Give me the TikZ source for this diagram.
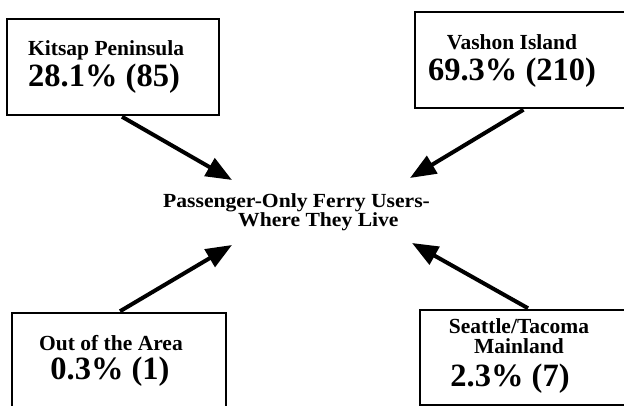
\documentclass[tikz,border=0pt]{standalone}
\usepackage{fontspec}
\setmainfont{Liberation Serif}
\newfontfamily\widefont[FakeStretch=1.08]{Liberation Serif}
\usetikzlibrary{arrows.meta,calc}

\begin{document}
\begin{tikzpicture}[x=1pt, y=-1pt, >={Triangle[length=26pt,width=20pt]},
  frame/.style={draw, line width=1.5pt, inner sep=0pt},
  place/.style={inner sep=0pt, font=\bfseries\fontsize{21.5}{20}\selectfont},
  share/.style={inner sep=0pt, font=\bfseries\fontsize{32.5}{33}\selectfont},
  link/.style={->, line width=4pt}]
\useasboundingbox (0,0) rectangle (624,406);
\clip (0,0) rectangle (624,406);
% boxes
\node[frame, minimum width=212pt, minimum height=96pt] (kitsapbox) at (113,67) {};
\node[frame, minimum width=225pt, minimum height=96pt] (vashonbox) at (527.5,60) {};
\node[frame, minimum width=214pt, minimum height=107pt] (outbox) at (119,366.5) {};
\node[frame, minimum width=220pt, minimum height=95pt] (seattlebox) at (530,357.5) {};
% texts
\node[place, anchor=base west] (kitsapname) at (28,56) {Kitsap Peninsula};
\node[share, anchor=base west] (kitsapshare) at (28,87) {28.1\% (85)};
\node[place, anchor=base] (vashonname) at (512,50) {Vashon Island};
\node[share, anchor=base] (vashonshare) at (512,81) {69.3\% (210)};
\node[place, anchor=base] (outname) at (111,350) {Out of the Area};
\node[share, anchor=base] (outshare) at (110,379) {0.3\% (1)};
\node[place, anchor=north, align=center] (seattlename) at (519,318) {Seattle/Tacoma\\Mainland};
\node[share, anchor=base] (seattleshare) at (510,386) {2.3\% (7)};
\node[inner sep=0pt, anchor=north west, align=left,
      font=\widefont\bfseries\fontsize{20}{16.5}\selectfont] (title) at (163,193)
  {Passenger-Only Ferry Users-\\\hspace*{75pt}Where They Live};
% arrows
\coordinate (kitsaptip) at (232,180);
\coordinate (vashontip) at (410,178);
\coordinate (outtip) at (232,245);
\coordinate (seattletip) at (412,243);
\draw[link] ($(kitsapbox.south)+(9,1)$) -- (kitsaptip);
\draw[link] ($(vashonbox.south)+(-4,1)$) -- (vashontip);
\draw[link] ($(outbox.north)+(1,-1)$) -- (outtip);
\draw[link] ($(seattlebox.north)+(-2,-1)$) -- (seattletip);
\end{tikzpicture}
\end{document}
